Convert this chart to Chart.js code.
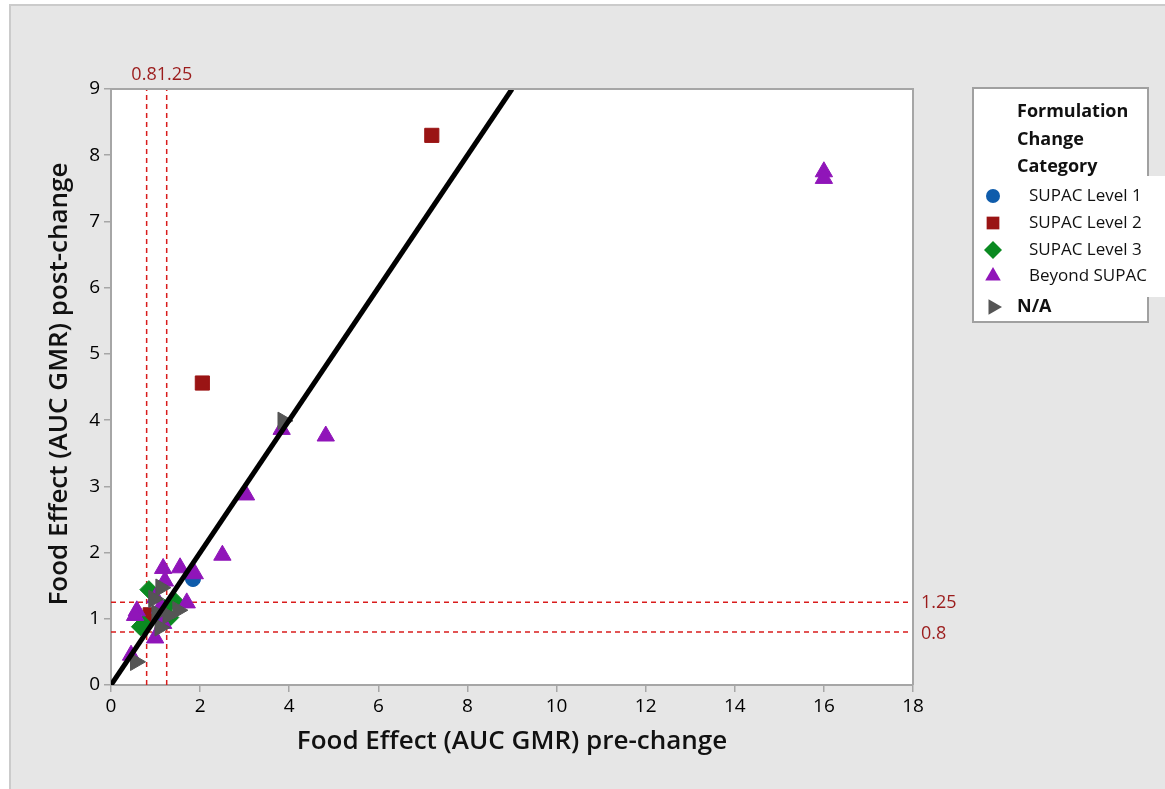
<!DOCTYPE html>
<html>
<head>
<meta charset="utf-8">
<script src="https://cdn.jsdelivr.net/npm/chart.js@4"></script>
<style>
  body { margin: 0; background: #fff; }
  #wrap { width: 1165px; height: 789px; }
</style>
</head>
<body>
<div id="wrap"><canvas id="chart"></canvas></div>
<script>
// Food effect GMR, pre-change (x) vs post-change (y), per category
const supacLevel1 = [
  { x: 1.84, y: 1.6 }, { x: 1.1, y: 1.05 }
];
const supacLevel2 = [
  { x: 7.2, y: 8.3 }, { x: 2.05, y: 4.56 }, { x: 0.88, y: 1.06 }
];
const supacLevel3 = [
  { x: 0.85, y: 1.44 }, { x: 1.44, y: 1.26 }, { x: 0.66, y: 0.88 },
  { x: 0.72, y: 0.92 }, { x: 1.32, y: 1.02 }, { x: 1.2, y: 1.16 }
];
const beyondSupac = [
  { x: 16, y: 7.75 }, { x: 16, y: 7.65 }, { x: 3.83, y: 3.86 },
  { x: 4.82, y: 3.76 }, { x: 3.03, y: 2.87 }, { x: 2.5, y: 1.96 },
  { x: 1.88, y: 1.68 }, { x: 1.55, y: 1.77 }, { x: 1.17, y: 1.76 },
  { x: 1.21, y: 1.57 }, { x: 1.7, y: 1.24 }, { x: 1.1, y: 1.16 },
  { x: 0.58, y: 1.12 }, { x: 0.54, y: 1.05 }, { x: 0.99, y: 0.71 },
  { x: 1.17, y: 0.93 }, { x: 0.45, y: 0.45 }, { x: 1.0, y: 1.32 }
];
const notAvailable = [
  { x: 3.86, y: 3.99 }, { x: 0.55, y: 0.35 }, { x: 1.12, y: 1.47 },
  { x: 0.96, y: 1.3 }, { x: 1.03, y: 1.08 }, { x: 1.28, y: 1.05 },
  { x: 1.5, y: 1.13 }, { x: 1.1, y: 0.87 }
];
const identityLine = [{ x: 0, y: 0 }, { x: 9, y: 9 }];
const limits = [0.8, 1.25];
const limitLabels = ["0.8", "1.25"];
const xRange = [0, 18];
const yRange = [0, 9];

const categories = [
  { label: "SUPAC Level 1", data: supacLevel1, color: "#0f5cab", style: "circle", radius: 7.5, rotation: 0 },
  { label: "SUPAC Level 2", data: supacLevel2, color: "#9a1414", style: "rect", radius: 10, rotation: 0 },
  { label: "SUPAC Level 3", data: supacLevel3, color: "#0b8a21", style: "rectRot", radius: 9, rotation: 0 },
  { label: "Beyond SUPAC", data: beyondSupac, color: "#9015b9", style: "triangle", radius: 10, rotation: 0 },
  { label: "N/A", data: notAvailable, color: "#555555", style: "triangle", radius: 10, rotation: 90 }
];

const datasets = [];

// black identity line drawn on top of everything
datasets.push({
  type: "line", data: identityLine, showLine: true, borderColor: "#000",
  borderWidth: 5, pointRadius: 0, order: 0
});

categories.forEach((c, i) => {
  datasets.push({
    label: c.label, data: c.data, pointStyle: c.style, pointRadius: c.radius,
    pointRotation: c.rotation, backgroundColor: c.color, borderColor: c.color,
    borderWidth: 1, order: categories.length - i
  });
});

// red dashed reference lines
limits.forEach((l) => {
  datasets.push({
    type: "line", data: [{ x: l, y: yRange[0] }, { x: l, y: yRange[1] }],
    showLine: true, borderColor: "#d91c1c", borderWidth: 1.5, borderDash: [5, 4],
    pointRadius: 0, order: 10
  });
  datasets.push({
    type: "line", data: [{ x: xRange[0], y: l }, { x: xRange[1], y: l }],
    showLine: true, borderColor: "#d91c1c", borderWidth: 1.5, borderDash: [5, 4],
    pointRadius: 0, order: 10
  });
});

const decorPlugin = {
  id: "decor",
  beforeDraw(chart) {
    const ctx = chart.ctx;
    const a = chart.chartArea;
    ctx.save();
    ctx.fillStyle = "#fff";
    ctx.fillRect(0, 0, chart.width, chart.height);
    ctx.fillStyle = "#e6e6e6";
    ctx.fillRect(10, 5, chart.width - 10, chart.height - 5);
    ctx.strokeStyle = "#cbcbcb";
    ctx.lineWidth = 2;
    ctx.strokeRect(10, 5, chart.width, chart.height);
    ctx.fillStyle = "#fff";
    ctx.fillRect(a.left, a.top, a.right - a.left, a.bottom - a.top);
    ctx.restore();
  },
  afterDraw(chart) {
    const ctx = chart.ctx;
    const a = chart.chartArea;
    const xs = chart.scales.x;
    const ys = chart.scales.y;
    ctx.save();

    // plot frame top and right
    ctx.strokeStyle = "#a6a6a6";
    ctx.lineWidth = 2;
    ctx.beginPath();
    ctx.moveTo(a.left, a.top);
    ctx.lineTo(a.right, a.top);
    ctx.lineTo(a.right, a.bottom);
    ctx.stroke();

    // axis titles
    ctx.fillStyle = "#111";
    ctx.font = "600 26px 'Open Sans'";
    ctx.textAlign = "center";
    ctx.textBaseline = "middle";
    ctx.fillText("Food Effect (AUC GMR) pre-change", (a.left + a.right) / 2, 742);
    ctx.save();
    ctx.translate(60, (a.top + a.bottom) / 2 - 3);
    ctx.rotate(-Math.PI / 2);
    ctx.fillText("Food Effect (AUC GMR) post-change", 0, 0);
    ctx.restore();

    // reference line labels
    ctx.fillStyle = "#9b1c1c";
    ctx.font = "18px 'Open Sans'";
    const mid = (xs.getPixelForValue(limits[0]) + xs.getPixelForValue(limits[1])) / 2;
    ctx.textAlign = "right";
    ctx.fillText(limitLabels[0], mid, 75);
    ctx.textAlign = "left";
    ctx.fillText(limitLabels[1], mid, 75);
    ctx.fillText(limitLabels[1], a.right + 8, ys.getPixelForValue(limits[1]) + 1);
    ctx.fillText(limitLabels[0], a.right + 8, ys.getPixelForValue(limits[0]) + 2);

    // legend
    ctx.fillStyle = "#fff";
    ctx.fillRect(973, 88, 175, 234);
    ctx.strokeStyle = "#a0a0a0";
    ctx.lineWidth = 2;
    ctx.strokeRect(973, 88, 175, 234);
    ctx.fillStyle = "#fff";
    ctx.fillRect(1010, 176, 155, 121);

    ctx.fillStyle = "#111";
    ctx.font = "bold 18px 'Open Sans'";
    ctx.textAlign = "left";
    ["Formulation", "Change", "Category"].forEach((t, i) => {
      ctx.fillText(t, 1017, 112 + i * 27.5);
    });
    const rows = [196, 223, 250, 276, 307];
    categories.forEach((c, i) => {
      ctx.fillStyle = c.color;
      ctx.strokeStyle = c.color;
      Chart.helpers.drawPoint(ctx, {
        pointStyle: c.style, radius: c.style === "circle" ? 7 : 9,
        rotation: c.rotation, borderWidth: 0
      }, 993, rows[i]);
      ctx.fillStyle = "#111";
      if (c.label === "N/A") {
        ctx.font = "bold 18px 'Open Sans'";
        ctx.fillText(c.label, 1017, rows[i]);
      } else {
        ctx.font = "17px 'Open Sans'";
        ctx.fillText(c.label, 1029, rows[i]);
      }
    });
    ctx.restore();
  }
};

new Chart(document.getElementById("chart"), {
  type: "scatter",
  data: { datasets: datasets },
  options: {
    responsive: true,
    maintainAspectRatio: false,
    animation: false,
    layout: { padding: { left: 0, top: 89, right: 252, bottom: 0 } },
    plugins: { legend: { display: false }, tooltip: { enabled: false } },
    scales: {
      x: {
        type: "linear", min: xRange[0], max: xRange[1],
        afterFit: (s) => { s.height = 104; },
        border: { color: "#a6a6a6", width: 2 },
        grid: { drawOnChartArea: false, color: "#a6a6a6", tickLength: 7, lineWidth: 1.5 },
        ticks: { stepSize: 2, color: "#000", padding: 3, font: { family: "'Open Sans'", size: 19 } }
      },
      y: {
        type: "linear", min: yRange[0], max: yRange[1],
        afterFit: (s) => { s.width = 111; },
        border: { color: "#a6a6a6", width: 2 },
        grid: { drawOnChartArea: false, color: "#a6a6a6", tickLength: 7, lineWidth: 1.5 },
        ticks: { stepSize: 1, color: "#000", padding: 4, font: { family: "'Open Sans'", size: 19 } }
      }
    }
  },
  plugins: [decorPlugin]
});
</script>
</body>
</html>
